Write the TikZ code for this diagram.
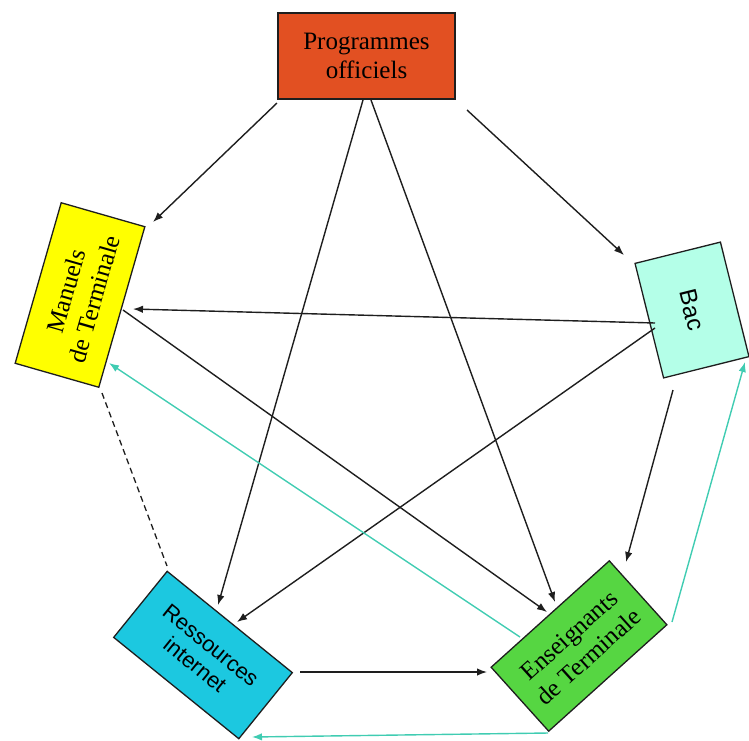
\documentclass[tikz,border=0pt]{standalone}
\usepackage{fontspec}
\setmainfont{Liberation Serif}
\newfontfamily\arialf{Liberation Sans}
\usetikzlibrary{arrows.meta}
\definecolor{cTop}{RGB}{226,80,34}
\definecolor{cMan}{RGB}{255,255,0}
\definecolor{cBac}{RGB}{180,255,232}
\definecolor{cRes}{RGB}{28,200,224}
\definecolor{cEns}{RGB}{86,214,66}
\definecolor{cTeal}{RGB}{64,204,178}
\definecolor{cLine}{RGB}{30,30,30}
\begin{document}
\begin{tikzpicture}[x=1pt,y=-1pt,
  box/.style={draw=cLine, line width=1.3pt, inner sep=0pt, align=center,
    font=\fontsize{25}{29}\selectfont},
  sansbox/.style={box, font=\arialf\fontsize{22}{25}\selectfont},
  arr/.style={line width=1.4pt, draw=cLine, -{Latex[length=10pt,width=7.5pt]}},
  tarr/.style={arr, draw=cTeal},
  dline/.style={line width=1.3pt, draw=cLine, dash pattern=on 6pt off 4pt}]
\useasboundingbox (0,0) rectangle (749,740);

\node[box, fill=cTop, minimum width=177pt, minimum height=86pt] (top) at (366.5,56) {Programmes\\officiels};
\node[box, fill=cMan, minimum width=167pt, minimum height=87pt, rotate=74] (man) at (80,295) {Manuels\\de Terminale};
\node[sansbox, fill=cBac, minimum width=118pt, minimum height=88pt, rotate=-76, font=\arialf\fontsize{24}{28}\selectfont] (bac) at (692,310) {Bac};
\node[sansbox, fill=cRes, minimum width=161pt, minimum height=85pt, rotate=-39] (res) at (203,655) {Ressources\\internet};
\node[box, fill=cEns, minimum width=159pt, minimum height=86pt, rotate=42] (ens) at (579,646) {Enseignants\\de Terminale};

% connector end points
\coordinate (topA) at (277,103);
\coordinate (manA) at (153,222);
\coordinate (topB) at (467,110);
\coordinate (bacA) at (624,255);
\coordinate (topC) at (363,100);
\coordinate (resA) at (218,605);
\coordinate (topD) at (371,100);
\coordinate (ensA) at (555,602);
\coordinate (bacB) at (655,323);
\coordinate (manB) at (133,309);
\coordinate (bacC) at (655,328);
\coordinate (resB) at (237,622);
\coordinate (bacD) at (673,390);
\coordinate (ensB) at (626,562);
\coordinate (manC) at (123,310);
\coordinate (ensC) at (547,612);
\coordinate (resC) at (300,672);
\coordinate (ensD) at (487,672);
\coordinate (manD) at (102,393);
\coordinate (resD) at (167,566);
\coordinate (ensE) at (520,637);
\coordinate (manE) at (109,363);
\coordinate (ensF) at (672,622);
\coordinate (bacE) at (745,362);
\coordinate (ensG) at (548,733);
\coordinate (resE) at (252,737);

\draw[arr] (topA) -- (manA);
\draw[arr] (topB) -- (bacA);
\draw[arr] (topC) -- (resA);
\draw[arr] (topD) -- (ensA);
\draw[arr] (bacB) -- (manB);
\draw[arr] (bacC) -- (resB);
\draw[arr] (bacD) -- (ensB);
\draw[arr] (manC) -- (ensC);
\draw[arr] (resC) -- (ensD);
\draw[dline] (manD) -- (resD);
\draw[tarr] (ensE) -- (manE);
\draw[tarr] (ensF) -- (bacE);
\draw[tarr] (ensG) -- (resE);
\end{tikzpicture}
\end{document}
